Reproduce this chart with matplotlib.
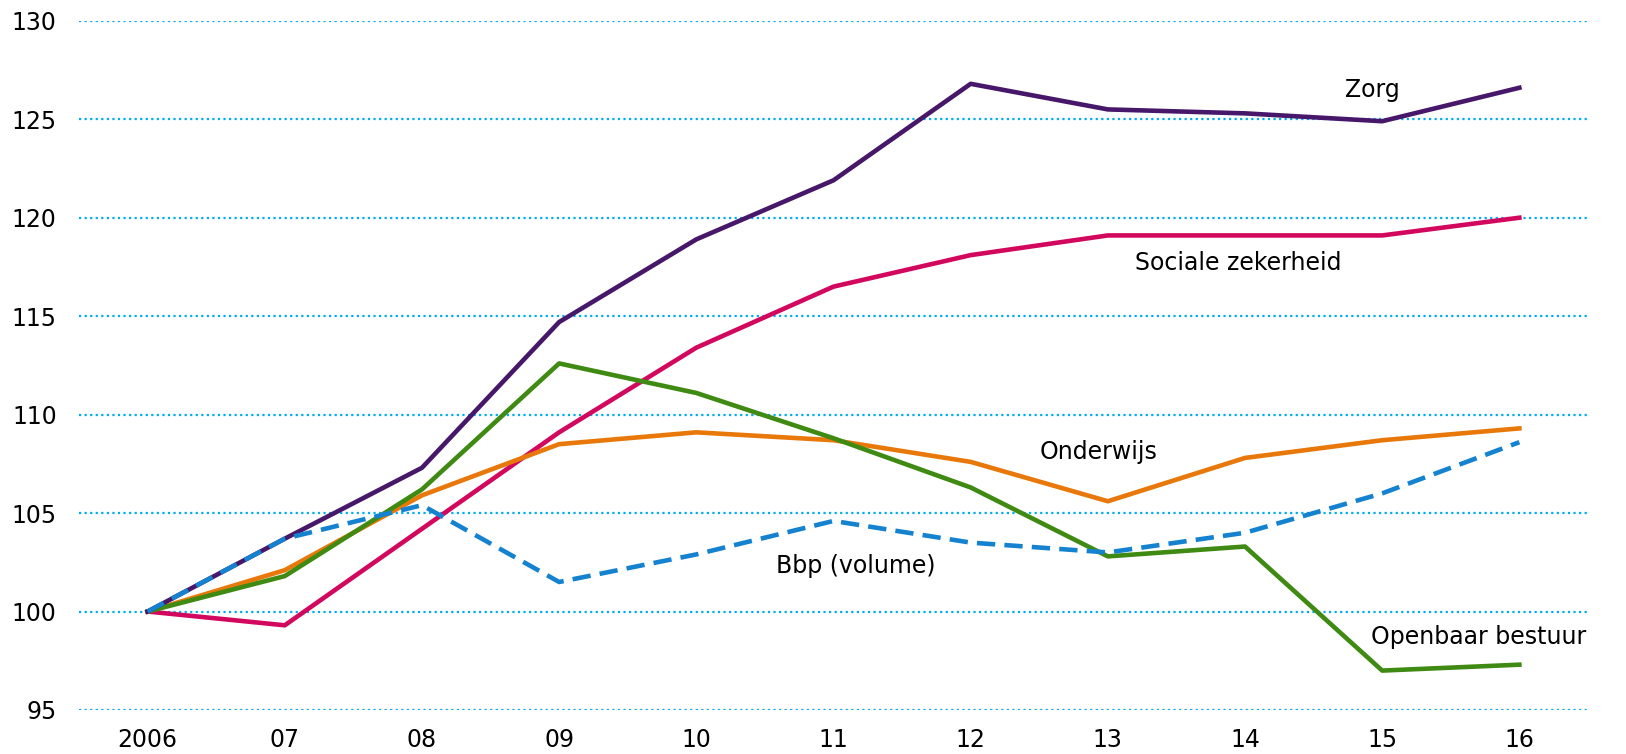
import matplotlib
matplotlib.use("Agg")
import matplotlib.pyplot as plt

jaren = ["2006", "07", "08", "09", "10", "11", "12", "13", "14", "15", "16"]

zorg = [100, 103.7, 107.3, 114.7, 118.9, 121.9, 126.8, 125.5, 125.3, 124.9, 126.6]
sociale_zekerheid = [100, 99.3, 104.2, 109.1, 113.4, 116.5, 118.1, 119.1, 119.1, 119.1, 120.0]
onderwijs = [100, 102.1, 105.9, 108.5, 109.1, 108.7, 107.6, 105.6, 107.8, 108.7, 109.3]
openbaar_bestuur = [100, 101.8, 106.2, 112.6, 111.1, 108.8, 106.3, 102.8, 103.3, 97.0, 97.3]
bbp = [100, 103.7, 105.4, 101.5, 102.9, 104.6, 103.5, 103.0, 104.0, 106.0, 108.6]

fig = plt.figure(figsize=(16.26, 7.54), dpi=100)
ax = fig.add_axes([0.0486, 0.0584, 0.928, 0.914])

x = range(len(jaren))
lw = 3.3
ax.plot(x, sociale_zekerheid, color="#d2085e", lw=lw, zorder=3)
ax.plot(x, onderwijs, color="#e8780a", lw=lw, zorder=3)
ax.plot(x, openbaar_bestuur, color="#3f8a12", lw=lw, zorder=4)
ax.plot(x, zorg, color="#47176a", lw=lw, zorder=4)
ax.plot(x, bbp, color="#1582d0", lw=lw, ls=(0, (4, 2)), zorder=5)

fs = 17
ax.text(8.93, 126.5, "Zorg", fontsize=fs, ha="center", va="center")
ax.text(7.95, 117.7, "Sociale zekerheid", fontsize=fs, ha="center", va="center")
ax.text(6.93, 108.1, "Onderwijs", fontsize=fs, ha="center", va="center")
ax.text(5.16, 102.3, "Bbp (volume)", fontsize=fs, ha="center", va="center")
ax.text(9.7, 98.7, "Openbaar bestuur", fontsize=fs, ha="center", va="center")

ax.set_xlim(-0.5, 10.5)
ax.set_ylim(95, 130)
ax.set_yticks(range(95, 131, 5))
ax.set_xticks(list(x))
ax.set_xticklabels(jaren)
ax.tick_params(length=0, labelsize=17)
ax.tick_params(axis="x", pad=13)
ax.tick_params(axis="y", pad=16)
ax.grid(axis="y", color="#00aeef", ls=(0, (1, 1.5)), lw=1.6)
ax.set_axisbelow(True)
for s in ax.spines.values():
    s.set_visible(False)

fig.savefig("out.png", dpi=100)
